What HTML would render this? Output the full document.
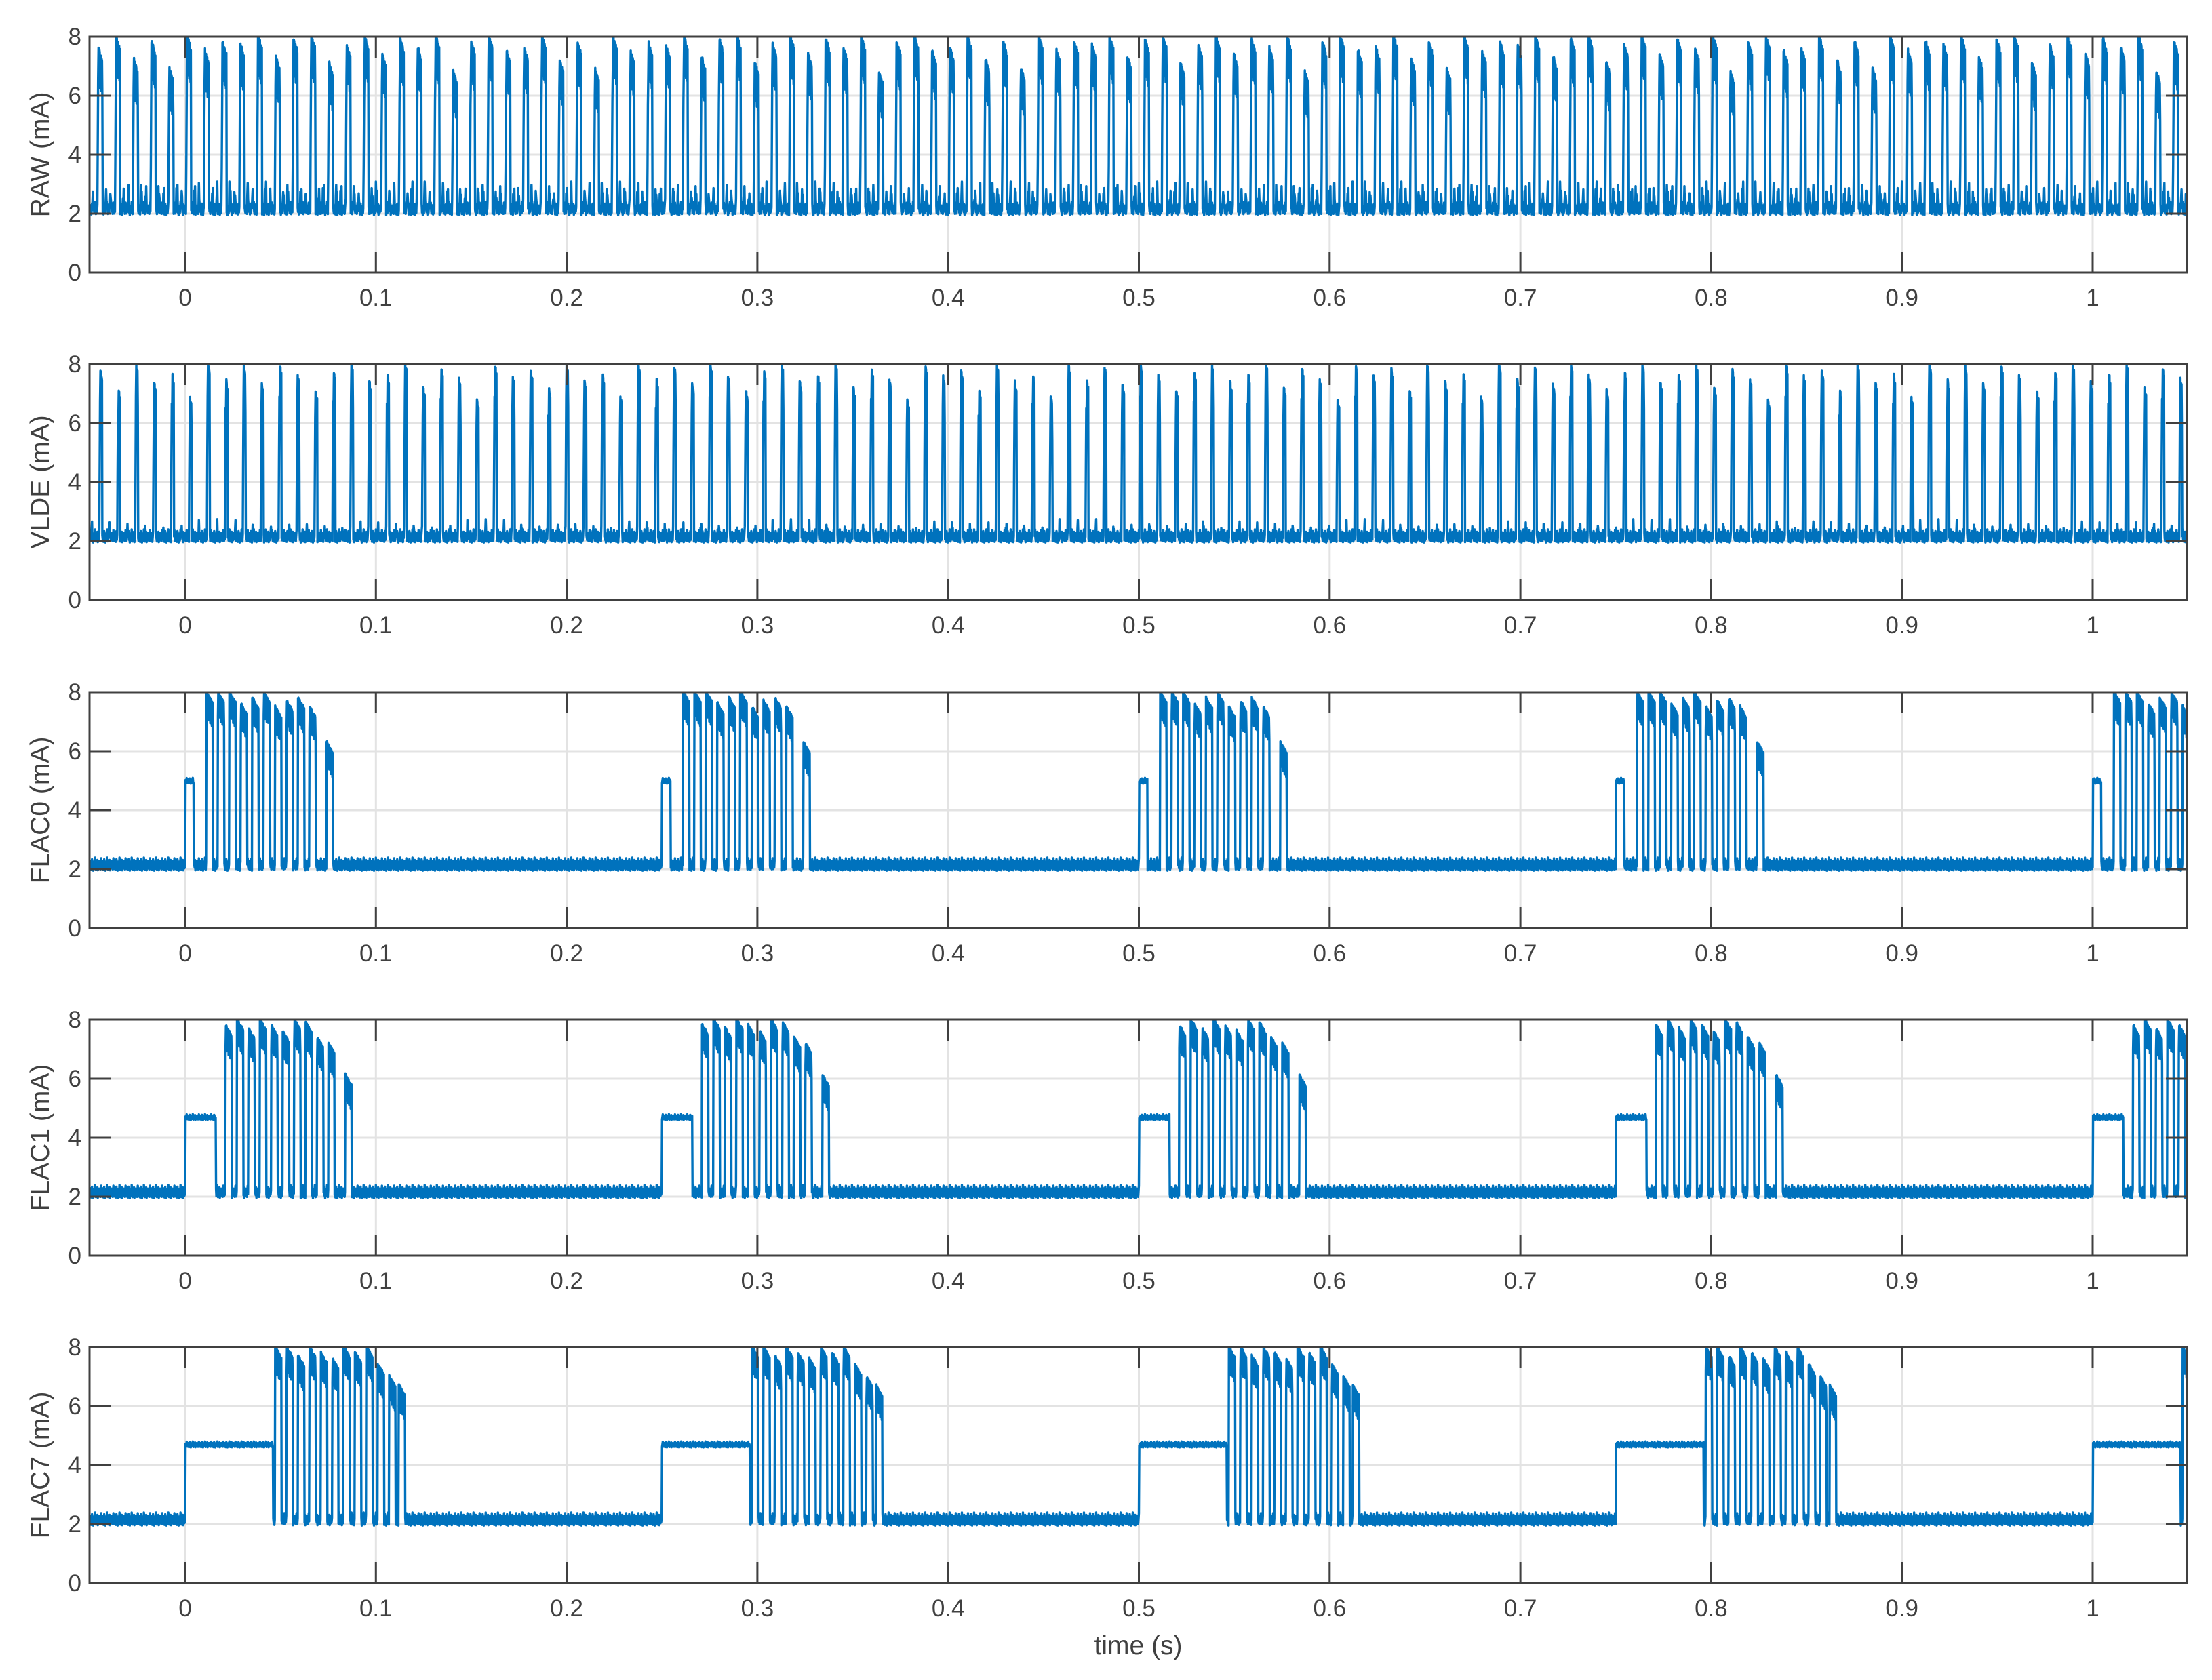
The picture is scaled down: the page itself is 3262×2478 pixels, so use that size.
<!DOCTYPE html>
<html><head><meta charset="utf-8"><style>
html,body{margin:0;padding:0;background:#fff}
svg{display:block;font-family:"Liberation Sans",sans-serif}
</style></head><body>
<svg id="fig" width="3262" height="2478" viewBox="0 0 3262 2478" xmlns="http://www.w3.org/2000/svg"></svg>
<script>
// ---- data ----
const panelLabels = ["RAW (mA)","VLDE (mA)","FLAC0 (mA)","FLAC1 (mA)","FLAC7 (mA)"];
const xTicks = [0,0.1,0.2,0.3,0.4,0.5,0.6,0.7,0.8,0.9,1];
const xTickLabels = ["0","0.1","0.2","0.3","0.4","0.5","0.6","0.7","0.8","0.9","1"];
const yTicks = [0,2,4,6,8];
const noise = [0.05,0.22,0.1,0.3,0.02,0.18,0.35,0.08,0.25,0.0,0.15,0.28,0.06,0.2,0.4,0.12,0.03,0.26,0.17,0.09,0.33,0.01,0.21,0.14,0.07,0.29,0.11,0.24,0.04,0.19,0.38,0.13];
const rawHeights = [7.6,8,7.2,7.8,6.9,8,7.5,7.8,7.7,8,7.3,7.9,8,7.1,7.7,8,7.4,7.9,7.6,8,6.8,7.8,8,7.5];
const vldeHeights = [7.8,7.2,8,7.4,7.7,6.9,8,7.5,7.9,7.3,8,7.6,7.1,7.8,8,7.4,7.7,8,7.2,7.9,7.5,6.8,8,7.6];
const burstStarts = [0,0.25,0.5,0.75,1.0];
const plateauLevel = [null,null,5.0,4.7,4.7];
const plateauEnd = [null,null,0.0045,0.016,0.046];
const flac0Offsets = [0.011,0.017,0.023,0.029,0.035,0.041,0.047,0.053,0.059,0.065,0.074];
const flac0Heights = [8,8,8,7.6,7.8,8,7.5,7.7,7.8,7.5,6.3];
const flac1Offsets = [0.021,0.027,0.033,0.039,0.045,0.051,0.057,0.063,0.069,0.075,0.084];
const flac1Heights = [7.8,8,7.7,8,7.8,7.6,8,7.9,7.4,7.2,6.1];
const flac7Offsets = [0.047,0.053,0.059,0.065,0.071,0.077,0.083,0.089,0.095,0.101,0.107,0.112];
const flac7Heights = [8,8,7.7,8,7.8,7.6,8,7.8,8,7.4,7.0,6.7];
// ---- layout ----
const L=132,R=3225,X0=273,PX=2813,H=348;
const tops=[54,537,1021,1504,1987];
const svg=document.getElementById('fig');
const NS="http://www.w3.org/2000/svg";
function mk(tag,attrs,parent){const e=document.createElementNS(NS,tag);for(const k in attrs)e.setAttribute(k,attrs[k]);(parent||svg).appendChild(e);return e;}
const xs=t=>X0+t*PX;
function sig(p,t,i){
  const nz=noise[i%noise.length];
  let v=1.95+nz*1.1;
  if(p<2){
    const per=p==0?0.0093:0.0094, st=p==0?-0.046:-0.045;
    const k=Math.floor((t-st)/per), ph=t-st-k*per;
    const hs=p==0?rawHeights:vldeHeights, h=hs[((k%hs.length)+hs.length)%hs.length];
    const w=p==0?0.0026:0.0015;
    if(ph>=0&&ph<0.0005) v=2.5+(h-2.5)*ph/0.0005;
    else if(ph>=0.0005&&ph<w) v=h-0.6*(ph-0.0005)/w-(i%3==0?1.2:0)+nz*0.3;
    else if(p==0&&((ph>0.004&&ph<0.0048)||(ph>0.0065&&ph<0.0072))) v=2.2+nz*2.2;
    else if(p==1&&ph>0.005&&ph<0.0056) v=2.1+nz*1.6;
    return v;
  }
  const offs=[flac0Offsets,flac1Offsets,flac7Offsets][p-2], hs=[flac0Heights,flac1Heights,flac7Heights][p-2];
  for(const b of burstStarts){
    const d=t-b;
    if(d>=0&&d<plateauEnd[p]) return plateauLevel[p]+nz*0.5-0.1;
    for(let j=0;j<offs.length;j++){
      const q=d-offs[j];
      if(q>=0&&q<0.0034) return hs[j]-0.4*q/0.0034-(i%4==0?0.8:0)+nz*0.2;
    }
  }
  return v;
}
for(let p=0;p<5;p++){
  const T=tops[p],B=T+H,ys=v=>T+H*(1-v/8);
  const g=mk('g',{});
  
  
  for(const v of yTicks.slice(1,4)){const l=mk('line',{x1:L,x2:R,y1:ys(v),y2:ys(v),stroke:'#e3e3e3','stroke-width':3},g);}
  for(const t of xTicks){const l=mk('line',{x1:xs(t),x2:xs(t),y1:T,y2:B,stroke:'#e3e3e3','stroke-width':3},g);}
  const cid='c'+p;
  const cp=mk('clipPath',{id:cid},g);mk('rect',{x:L,y:T,width:R-L,height:H},cp);
  let d='';let i=0;
  for(let t=-0.05;t<=1.05;t+=0.0002,i++){const v=Math.min(sig(p,t,i),8);d+=(i?'L':'M')+xs(t).toFixed(1)+' '+ys(v).toFixed(1);}
  const path=mk('path',{d:d,fill:'none',stroke:'#0072BD','stroke-width':3.4,'stroke-linejoin':'round','clip-path':'url(#'+cid+')'},g);
  
  
  for(const t of xTicks){mk('line',{x1:xs(t),x2:xs(t),y1:B,y2:B-31,stroke:'#404040','stroke-width':3},g);mk('line',{x1:xs(t),x2:xs(t),y1:T,y2:T+31,stroke:'#404040','stroke-width':3},g);}
  xTicks.forEach((t,k)=>{const tx=mk('text',{x:xs(t),y:B+49,'font-size':35,fill:'#404040','text-anchor':'middle'},g);tx.textContent=xTickLabels[k];});
  for(const v of yTicks){mk('line',{x1:L,x2:L+31,y1:ys(v),y2:ys(v),stroke:'#404040','stroke-width':3},g);mk('line',{x1:R,x2:R-31,y1:ys(v),y2:ys(v),stroke:'#404040','stroke-width':3},g);
    const tx=mk('text',{x:L-12,y:ys(v)+12,'font-size':35,fill:'#404040','text-anchor':'end'},g);tx.textContent=String(v);}
  const box=mk('rect',{x:L,y:T,width:R-L,height:H,fill:'none',stroke:'#404040','stroke-width':3},g);
  
  const yl=mk('text',{x:0,y:0,'font-size':39,fill:'#404040','text-anchor':'middle',transform:'translate(72,'+(T+H/2)+') rotate(-90)'},g);
  yl.textContent=panelLabels[p];
}
const xl=mk('text',{x:(L+R)/2,y:2440,'font-size':39,fill:'#404040','text-anchor':'middle'});
xl.textContent='time (s)';


</script>
</body></html>
